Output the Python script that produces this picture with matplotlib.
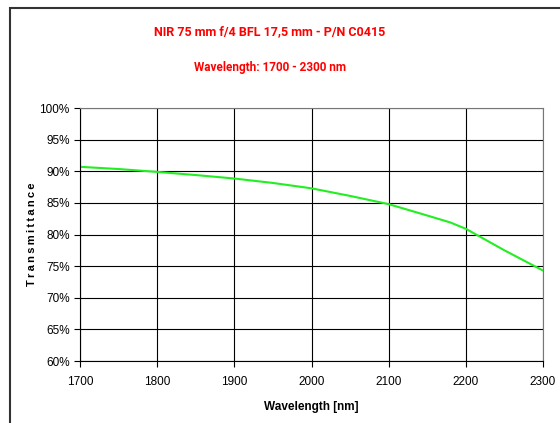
import matplotlib
matplotlib.use("Agg")
import matplotlib.pyplot as plt
from matplotlib.patches import Rectangle
from matplotlib.ticker import PercentFormatter

plt.rcParams["font.family"] = ["Liberation Sans", "DejaVu Sans"]

wavelength = [1700, 1750, 1800, 1850, 1900, 1950, 2000, 2050, 2100, 2150, 2180, 2200, 2225, 2250, 2275, 2300]
transmittance = [90.7, 90.35, 89.9, 89.4, 88.85, 88.15, 87.3, 86.1, 84.8, 83.0, 81.9, 80.9, 79.2, 77.5, 75.9, 74.3]

title = "NIR 75 mm f/4 BFL 17,5 mm - P/N C0415"
subtitle = "Wavelength: 1700 - 2300 nm"

fig = plt.figure(figsize=(5.6, 4.23), dpi=100)
fig.patches.append(Rectangle((10 / 560, -0.1), 1.2, 1 - 8 / 423 + 0.1, transform=fig.transFigure,
                             fill=False, edgecolor="#333333", linewidth=1.5))

ax = fig.add_axes([80 / 560, 1 - 361 / 423, 463 / 560, 253 / 423])
ax.plot(wavelength, transmittance, color="#22ee22", linewidth=1.5)

ax.set_xlim(1700, 2300)
ax.set_ylim(60, 100)
ax.set_xticks(range(1700, 2301, 100))
ax.set_yticks(range(60, 101, 5))
ax.yaxis.set_major_formatter(PercentFormatter(decimals=0))
ax.grid(True, color="black", linewidth=0.8)
ax.set_axisbelow(True)
for s in ["top", "right"]:
    ax.spines[s].set_color("#777777")
ax.tick_params(labelsize=8.5, length=4, width=0.8)
ax.tick_params(axis="x", pad=7)

ax.set_xlabel("Wavelength [nm]", fontsize=8.5, fontweight="bold", labelpad=9)
ax.set_ylabel("T\u2009r\u2009a\u2009n\u2009s\u2009m\u2009i\u2009t\u2009t\u2009a\u2009n\u2009c\u2009e",
              fontsize=8, fontweight="bold", labelpad=2)

fig.text(0.482, 1 - 32 / 423, title, color="red", fontsize=9, fontweight="bold",
         ha="center", va="center", family="Roboto")
fig.text(0.482, 1 - 68 / 423, subtitle, color="red", fontsize=8.5, fontweight="bold",
         ha="center", va="center", family="Roboto")

fig.savefig("out.png", dpi=100)
